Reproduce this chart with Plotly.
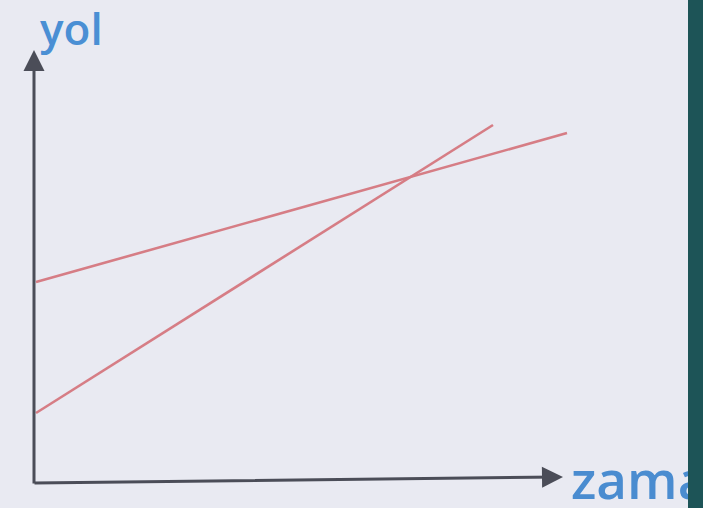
import plotly.graph_objects as go

# Data (pixel-derived units: time along x, distance along y)
line1_x = [2, 533]
line1_y = [201, 350]
line2_x = [2, 459]
line2_y = [70, 358]

axis_origin = [0, 0]
x_axis_tip = [529, 6]
y_axis_tip = [0, 433]

y_label = "yol"
x_label = "zaman"

fig = go.Figure()

line_color = "#d67d85"
fig.add_trace(go.Scatter(x=line1_x, y=line1_y, mode="lines",
                         line=dict(color=line_color, width=2.6), hoverinfo="skip"))
fig.add_trace(go.Scatter(x=line2_x, y=line2_y, mode="lines",
                         line=dict(color=line_color, width=2.6), hoverinfo="skip"))

# axis labels as text traces (so the right band can cover them)
fig.add_trace(go.Scatter(x=[6], y=[449], mode="text", text=[y_label],
                         textposition="middle right",
                         textfont=dict(family="Open Sans", size=44, color="#4a8fd4", weight=600),
                         cliponaxis=False, hoverinfo="skip"))
fig.add_trace(go.Scatter(x=[537], y=[-3], mode="text", text=[x_label],
                         textposition="middle right",
                         textfont=dict(family="Open Sans", size=53, color="#4a8cd0", weight=600),
                         cliponaxis=False, hoverinfo="skip"))

axis_color = "#4b4d58"
# y axis arrow
fig.add_annotation(x=y_axis_tip[0], y=y_axis_tip[1], ax=axis_origin[0], ay=axis_origin[1] - 2,
                   xref="x", yref="y", axref="x", ayref="y", text="",
                   showarrow=True, arrowhead=2, arrowsize=1.4, arrowwidth=3,
                   arrowcolor=axis_color)
# x axis arrow
fig.add_annotation(x=x_axis_tip[0], y=x_axis_tip[1], ax=axis_origin[0] - 1, ay=axis_origin[1],
                   xref="x", yref="y", axref="x", ayref="y", text="",
                   showarrow=True, arrowhead=2, arrowsize=1.4, arrowwidth=3,
                   arrowcolor=axis_color)

# dark teal band on the right
fig.add_shape(type="rect", xref="paper", yref="paper", x0=688/703, x1=1.0, y0=0, y1=1,
              fillcolor="#1d5457", line=dict(width=0), layer="above")

fig.update_layout(
    width=703, height=508,
    margin=dict(l=0, r=0, t=0, b=0),
    paper_bgcolor="#e9eaf2",
    plot_bgcolor="#e9eaf2",
    showlegend=False,
    xaxis=dict(range=[-34, 669], visible=False, fixedrange=True),
    yaxis=dict(range=[-25, 483], visible=False, fixedrange=True),
)

fig.write_html("out.html", config={"displayModeBar": False},
               post_script="document.body.style.margin='0px';")
